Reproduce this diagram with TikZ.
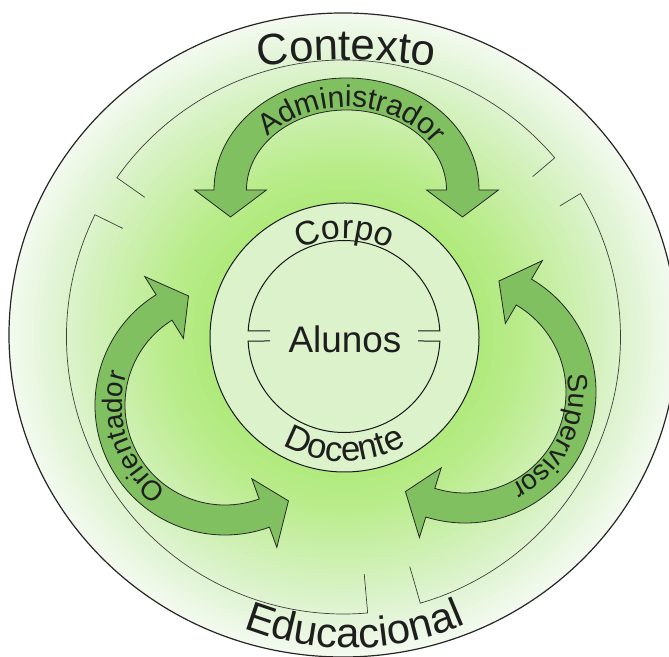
\documentclass[tikz,border=0pt]{standalone}
\usepackage{fontspec}
\setmainfont{Liberation Sans}
\usetikzlibrary{decorations.text}
\definecolor{arrowfill}{HTML}{80C060}
\definecolor{innerfill}{HTML}{DBF2CB}
\definecolor{gA}{HTML}{ADE977}
\definecolor{gB}{HTML}{BAEC8C}
\definecolor{gC}{HTML}{CFF0B3}
\definecolor{gD}{HTML}{E2F4D6}
\definecolor{gE}{HTML}{F3FAEF}
\definecolor{inkc}{HTML}{1E1E1E}
\begin{document}
\begin{tikzpicture}[x=1bp,y=1bp,
  ringline/.style={draw=black!75, line width=0.7bp},
  arrowband/.style={fill=arrowfill, draw=black!85, line width=0.8bp, line join=miter},
  circline/.style={draw=black!90, line width=1bp},
  curvetext/.style={decorate, decoration={text along path, text={#1}, text align=center}},
]
\useasboundingbox (0,0) rectangle (669,657);
\clip (0,0) rectangle (669,657);
\coordinate (C) at (344.5,319.5);
\coordinate (E) at (343,322);
% outer context disc, radial gradient built from nested ellipses
\foreach \ta/\tb/\ca/\cb in {1.0/0.88/gE/gD, 0.88/0.72/gD/gC, 0.72/0.54/gC/gB, 0.54/0.38/gB/gA}{
  \foreach \k in {0,...,15}{
    \pgfmathsetmacro\tt{\ta-(\ta-\tb)*\k/16}
    \pgfmathtruncatemacro\pp{100*\k/16}
    \pgfmathsetmacro\rx{334*\tt}
    \pgfmathsetmacro\ry{322*\tt}
    \fill[\cb!\pp!\ca] (E) ellipse [x radius=\rx bp, y radius=\ry bp];
  }
}
\fill[gA] (E) ellipse [x radius=127bp, y radius=122bp];
\draw[line width=1.2bp, draw=black!85] (E) ellipse [x radius=334bp, y radius=322bp];
% middle broken ring
\begin{scope}[shift={(343.5,320)}]
  \coordinate (M) at (0,0);
  \draw[ringline] (144.9:243) -- (144.9:277) arc[start angle=144.9, end angle=40.3, radius=277bp] -- (40.3:248);
  \draw[ringline] (153.8:246) -- (153.8:277) arc[start angle=153.8, end angle=275, radius=277bp] -- (275:238);
  \draw[ringline] (286.1:239) -- (286.1:277) arc[start angle=286.1, end angle=391.2, radius=277bp] -- (31.2:253);
\end{scope}
% Administrador arrow
\begin{scope}[shift={(346.5,467)}]
  \coordinate (adm) at (0,0);
  \draw[arrowband] (132.5,0) arc[start angle=0, end angle=180, x radius=132.5bp, y radius=112bp]
    -- (-152,0) -- (-116,-27) -- (-80,0) -- (-100,0)
    arc[start angle=180, end angle=0, x radius=100bp, y radius=80bp]
    -- (80,0) -- (116,-27) -- (152,0) -- cycle;
  \path[curvetext={|\color{inkc}\fontsize{30}{30}\selectfont|Administrador}] (172:103 and 83) arc[start angle=172, end angle=0, x radius=103bp, y radius=83bp];
\end{scope}
% Orientador arrow
\begin{scope}[shift={(225,252)}]
  \coordinate (ori) at (0,0);
  \draw[arrowband] (122:130) arc[start angle=122, end angle=290, radius=130bp]
    -- (290:151.5) -- (303.5:115) -- (290:78.5) -- (290:100)
    arc[start angle=290, end angle=122, radius=100bp]
    -- (122:78.5) -- (108.5:115) -- (122:151.5) -- cycle;
  \path[curvetext={|\color{inkc}\fontsize{28}{28}\selectfont|Orientador}] (246:103) arc[start angle=246, end angle=152, radius=103bp];
\end{scope}
% Supervisor arrow
\begin{scope}[shift={(465,265)}]
  \coordinate (sup) at (0,0);
  \draw[arrowband] (-107.4:131) arc[start angle=-107.4, end angle=59.5, radius=131bp]
    -- (59.5:152.5) -- (73:116) -- (59.5:79.5) -- (59.5:101)
    arc[start angle=59.5, end angle=-107.4, radius=101bp]
    -- (-107.4:79.5) -- (-120.9:116) -- (-107.4:152.5) -- cycle;
  \path[curvetext={|\color{inkc}\fontsize{28}{28}\selectfont|Supervisor}] (21:104) arc[start angle=21, end angle=-75, radius=104bp];
\end{scope}
% Corpo docente disc
\draw[circline, fill=innerfill] (C) circle[radius=134.5bp];
% Alunos circle, split in two halves with stubs
\begin{scope}[shift={(344,320.5)}]
  \draw[circline] (74,5.5) -- (3.3:96) arc[start angle=3.3, end angle=176.7, radius=96bp] -- (-74,5.5);
  \draw[circline] (74,-4.5) -- (-2.7:96) arc[start angle=-2.7, end angle=-177.3, radius=96bp] -- (-74,-4.5);
\end{scope}
\node[font=\fontsize{37}{37}\selectfont, text=inkc, inner sep=0pt] (alunos) at (345,318) {Alunos};
% ring texts
\begin{scope}[shift={(344.5,319.5)}]
  \path[curvetext={|\color{inkc}\fontsize{34}{34}\selectfont|Corpo}] (132:99) arc[start angle=132, end angle=48, radius=99bp];
  \path[curvetext={|\color{inkc}\fontsize{35}{35}\selectfont|Docente}] (215:124) arc[start angle=215, end angle=325, radius=124bp];
\end{scope}
\begin{scope}[shift={(346,-3)}]
  \path[curvetext={|\color{inkc}\fontsize{44}{44}\selectfont|Contexto}] (101:600) arc[start angle=101, end angle=79, radius=600bp];
\end{scope}
\begin{scope}[shift={(350,299)}]
  \path[curvetext={|\color{inkc}\fontsize{42}{42}\selectfont|Educacional}] (240:290) arc[start angle=240, end angle=302, radius=290bp];
\end{scope}
\end{tikzpicture}
\end{document}
